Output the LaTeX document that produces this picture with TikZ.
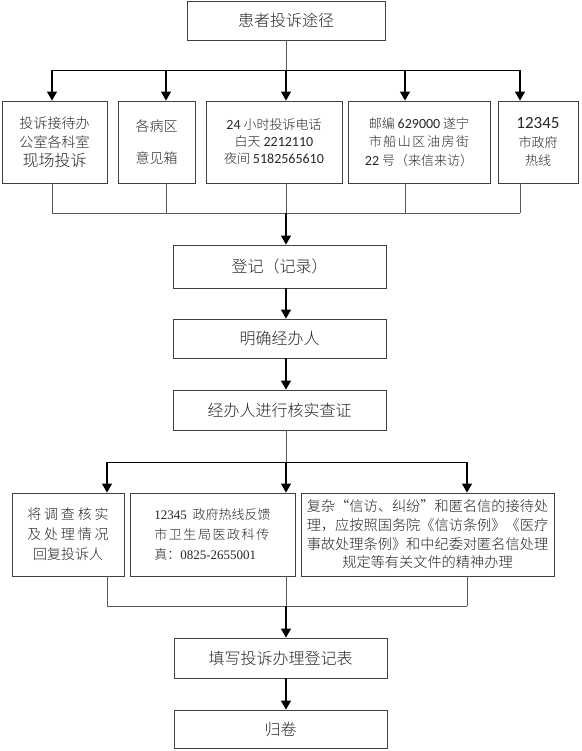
\documentclass[tikz,border=0pt]{standalone}
\usepackage{fontspec}
\setmainfont{Noto Sans CJK SC Light}
\newfontfamily\lat{Carlito}
\newfontfamily\serifnum{Liberation Serif}
\newfontfamily\wideA{Noto Sans CJK SC Light}[LetterSpace=20]
\newfontfamily\wideB{Noto Sans CJK SC Light}[LetterSpace=12]
\usetikzlibrary{arrows.meta}
\tikzset{
  box/.style={draw=black!75, line width=0.8pt, inner sep=0pt, align=center, text=black!85},
  link/.style={draw=black!65, line width=0.8pt},
  arr/.style={draw=black, line width=1.1pt, -{Triangle[width=10pt,length=9pt]}},
  bus/.style={draw=black, line width=0.9pt}
}
\begin{document}
\begin{tikzpicture}[x=1pt,y=-1pt]
\useasboundingbox (0,0) rectangle (581,751);
% top
\node[box, minimum width=198pt, minimum height=39pt, font=\fontsize{16}{20}\selectfont] (top) at (286,20.5) {患者投诉途径};
% row 1
\node[box, minimum width=105pt, minimum height=82pt, font=\fontsize{14}{19}\selectfont] (b1) at (54.5,142) {投诉接待办\\公室各科室\\{\fontsize{16}{21}\selectfont 现场投诉}};
\node[box, minimum width=77pt, minimum height=82pt, font=\fontsize{14}{32}\selectfont] (b2) at (156.5,142) {各病区\\意见箱};
\node[box, minimum width=136pt, minimum height=82pt, font=\fontsize{13}{17}\selectfont] (b3) at (274,142) {{\lat\fontsize{14}{17}\selectfont 24} 小时投诉电话\\白天 {\lat\fontsize{14}{17}\selectfont 2212110}\\夜间 {\lat\fontsize{14}{17}\selectfont 5182565610}};
\node[box, minimum width=142pt, minimum height=82pt, font=\fontsize{13}{18.5}\selectfont] (b4) at (419,142) {邮编 {\lat\fontsize{14}{18.5}\selectfont 629000} 遂宁\\{\wideB 市船山区油房街}\\{\lat\fontsize{14}{18.5}\selectfont 22} 号（来信来访）};
\node[box, minimum width=80pt, minimum height=82pt, font=\fontsize{13}{18.5}\selectfont] (b5) at (538,142) {{\lat\fontsize{17}{18.5}\selectfont 12345}\\市政府\\热线};
% middle chain
\node[box, minimum width=213pt, minimum height=43pt, font=\fontsize{16}{20}\selectfont] (reg) at (279.5,266.5) {登记（记录）};
\node[box, minimum width=213pt, minimum height=39pt, font=\fontsize{16}{20}\selectfont] (ming) at (279.5,338.5) {明确经办人};
\node[box, minimum width=213pt, minimum height=40pt, font=\fontsize{16}{20}\selectfont] (jing) at (279.5,410) {经办人进行核实查证};
% row 2
\node[box, minimum width=112pt, minimum height=83pt, font=\fontsize{14}{20}\selectfont] (ba) at (68,534.5) {{\wideA 将调查核实}\\{\wideA 及处理情况}\\回复投诉人};
\node[box, minimum width=165pt, minimum height=83pt, font=\fontsize{13}{20}\selectfont, align=left] (bb) at (212.5,534.5) {{\serifnum 12345}\ \ 政府热线反馈\\{\wideB 市卫生局医政科传}\\真：{\serifnum 0825-2655001}};
\node[box, minimum width=253pt, minimum height=83pt, font=\fontsize{14.2}{18.7}\selectfont] (bc) at (427.5,534.5) {复杂“信访、纠纷”和匿名信的接待处\\理，应按照国务院《信访条例》《医疗\\事故处理条例》和中纪委对匿名信处理\\规定等有关文件的精神办理};
% bottom
\node[box, minimum width=213pt, minimum height=40pt, font=\fontsize{16}{20}\selectfont] (fill) at (280.5,658) {填写投诉办理登记表};
\node[box, minimum width=213pt, minimum height=38pt, font=\fontsize{16}{20}\selectfont] (gui) at (280.5,729) {归卷};

% coordinates for distribution 1
\coordinate (s1) at (52,70);
\coordinate (s2) at (166,70);
\coordinate (s3) at (286,70);
\coordinate (s4) at (405,70);
\coordinate (s5) at (520,70);
\draw[link] (top.south) -- (s3);
\draw[bus] (s1) -- (s5);
\draw[arr] (s1) -- (s1 |- b1.north);
\draw[arr] (s2) -- (s2 |- b2.north);
\draw[arr] (s3) -- (s3 |- b3.north);
\draw[arr] (s4) -- (s4 |- b4.north);
\draw[arr] (s5) -- (s5 |- b5.north);
% merge 1
\coordinate (m1) at (52,213);
\coordinate (m2) at (166,213);
\coordinate (m3) at (286,213);
\coordinate (m4) at (405,213);
\coordinate (m5) at (520,213);
\draw[link] (m1 |- b1.south) -- (m1);
\draw[link] (m2 |- b2.south) -- (m2);
\draw[link] (m3 |- b3.south) -- (m3);
\draw[link] (m4 |- b4.south) -- (m4);
\draw[link] (m5 |- b5.south) -- (m5);
\draw[link] (m1) -- (m5);
\draw[arr] (m3) -- (m3 |- reg.north);
\draw[arr] (m3 |- reg.south) -- (m3 |- ming.north);
\draw[arr] (m3 |- ming.south) -- (m3 |- jing.north);
% distribution 2
\coordinate (d1) at (107,462);
\coordinate (d2) at (286,462);
\coordinate (d3) at (467,462);
\draw[link] (d2 |- jing.south) -- (d2);
\draw[bus] (d1) -- (d3);
\draw[arr] (d1) -- (d1 |- ba.north);
\draw[arr] (d2) -- (d2 |- bb.north);
\draw[arr] (d3) -- (d3 |- bc.north);
% merge 2
\coordinate (e1) at (107,606);
\coordinate (e2) at (286,606);
\coordinate (e3) at (467,606);
\draw[link] (e1 |- ba.south) -- (e1);
\draw[link] (e2 |- bb.south) -- (e2);
\draw[link] (e3 |- bc.south) -- (e3);
\draw[link] (e1) -- (e3);
\draw[arr] (e2) -- (e2 |- fill.north);
\draw[arr] (e2 |- fill.south) -- (e2 |- gui.north);
\end{tikzpicture}
\end{document}
